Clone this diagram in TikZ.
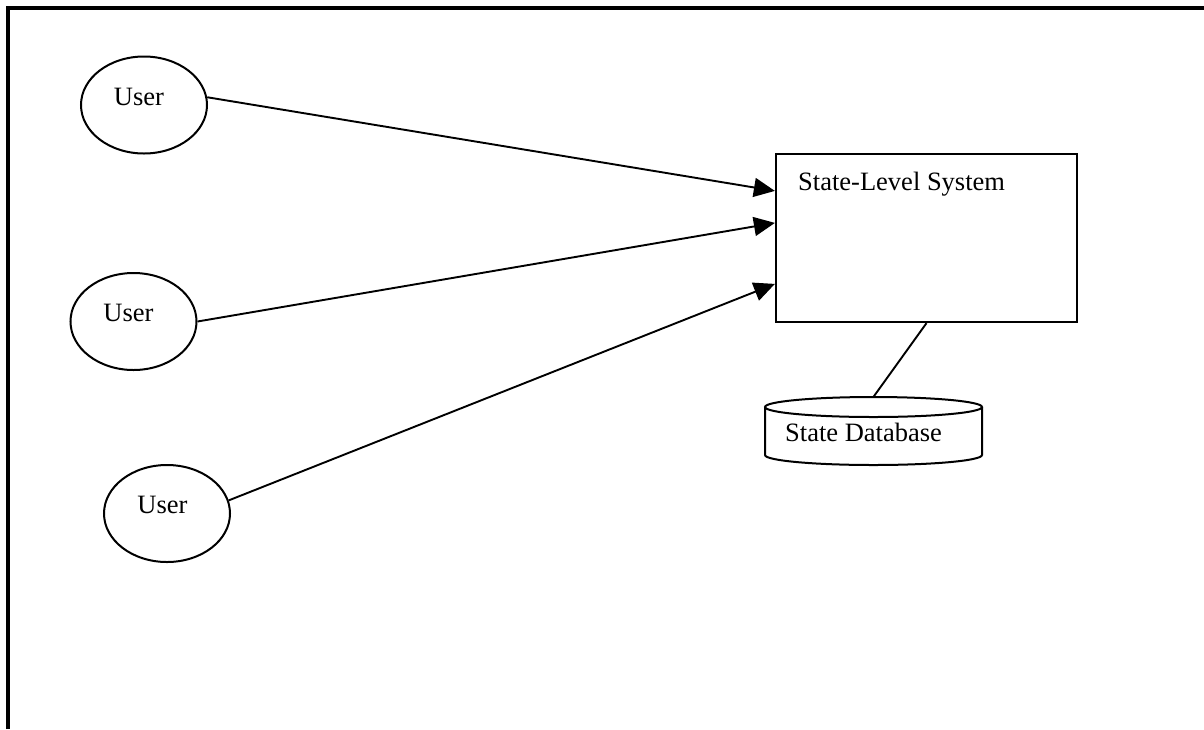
\documentclass[tikz,border=0pt]{standalone}
\usepackage{fontspec}
\setmainfont{Liberation Serif}
\usetikzlibrary{arrows.meta,calc,shapes.geometric}
\tikzset{
  usr/.style={draw, ellipse, line width=2pt, minimum width=126pt, minimum height=97pt, inner sep=0pt},
  lbl/.style={inner sep=0pt, font=\fontsize{26.5}{30}\selectfont},
  sysbox/.style={draw, rectangle, line width=2.2pt, minimum width=301pt, minimum height=168pt, inner sep=0pt},
  conn/.style={line width=1.9pt, -{Triangle[length=21pt,width=19pt]}},
  plain/.style={line width=1.9pt}
}
\begin{document}
\begin{tikzpicture}[x=1pt,y=-1pt]
\useasboundingbox (0,0) rectangle (1204,729);
% frame
\draw[line width=4pt] (8,729) -- (8,7.5) -- (1204,7.5);
% users
\node[usr] (u1) at (144,105) {};
\node[lbl, anchor=base] (u1t) at (139,105) {User};
\node[usr] (u2) at (133.5,321.5) {};
\node[lbl, anchor=base] (u2t) at (128.5,321.5) {User};
\node[usr] (u3) at (167,513.5) {};
\node[lbl, anchor=base] (u3t) at (162.5,513) {User};
% system
\node[sysbox] (sys) at (926.5,238) {};
\node[lbl, anchor=base west] (syst) at (798,190) {State-Level System};
% database
\node[inner sep=0pt, minimum width=217pt, minimum height=68pt] (db) at (873.5,431) {};
\draw[line width=2pt] (873.5,407) ellipse [x radius=108.5pt, y radius=10pt];
\draw[line width=2pt] (765,407) -- (765,455) arc[start angle=180, end angle=360, x radius=108.5pt, y radius=10pt] -- (982,407);
\node[lbl, anchor=base west] (dbt) at (785,441) {State Database};
% connectors
\coordinate (a1) at ($(sys.north west)+(0,38)$);
\coordinate (a2) at ($(sys.north west)+(0,70)$);
\coordinate (a3) at ($(sys.north west)+(0,131)$);
\draw[conn] (u1.7) -- (a1);
\draw[conn] (u2.east) -- (a2);
\draw[conn] (u3.12) -- (a3);
\draw[plain] (sys.south) -- (db.north);
\end{tikzpicture}
\end{document}
